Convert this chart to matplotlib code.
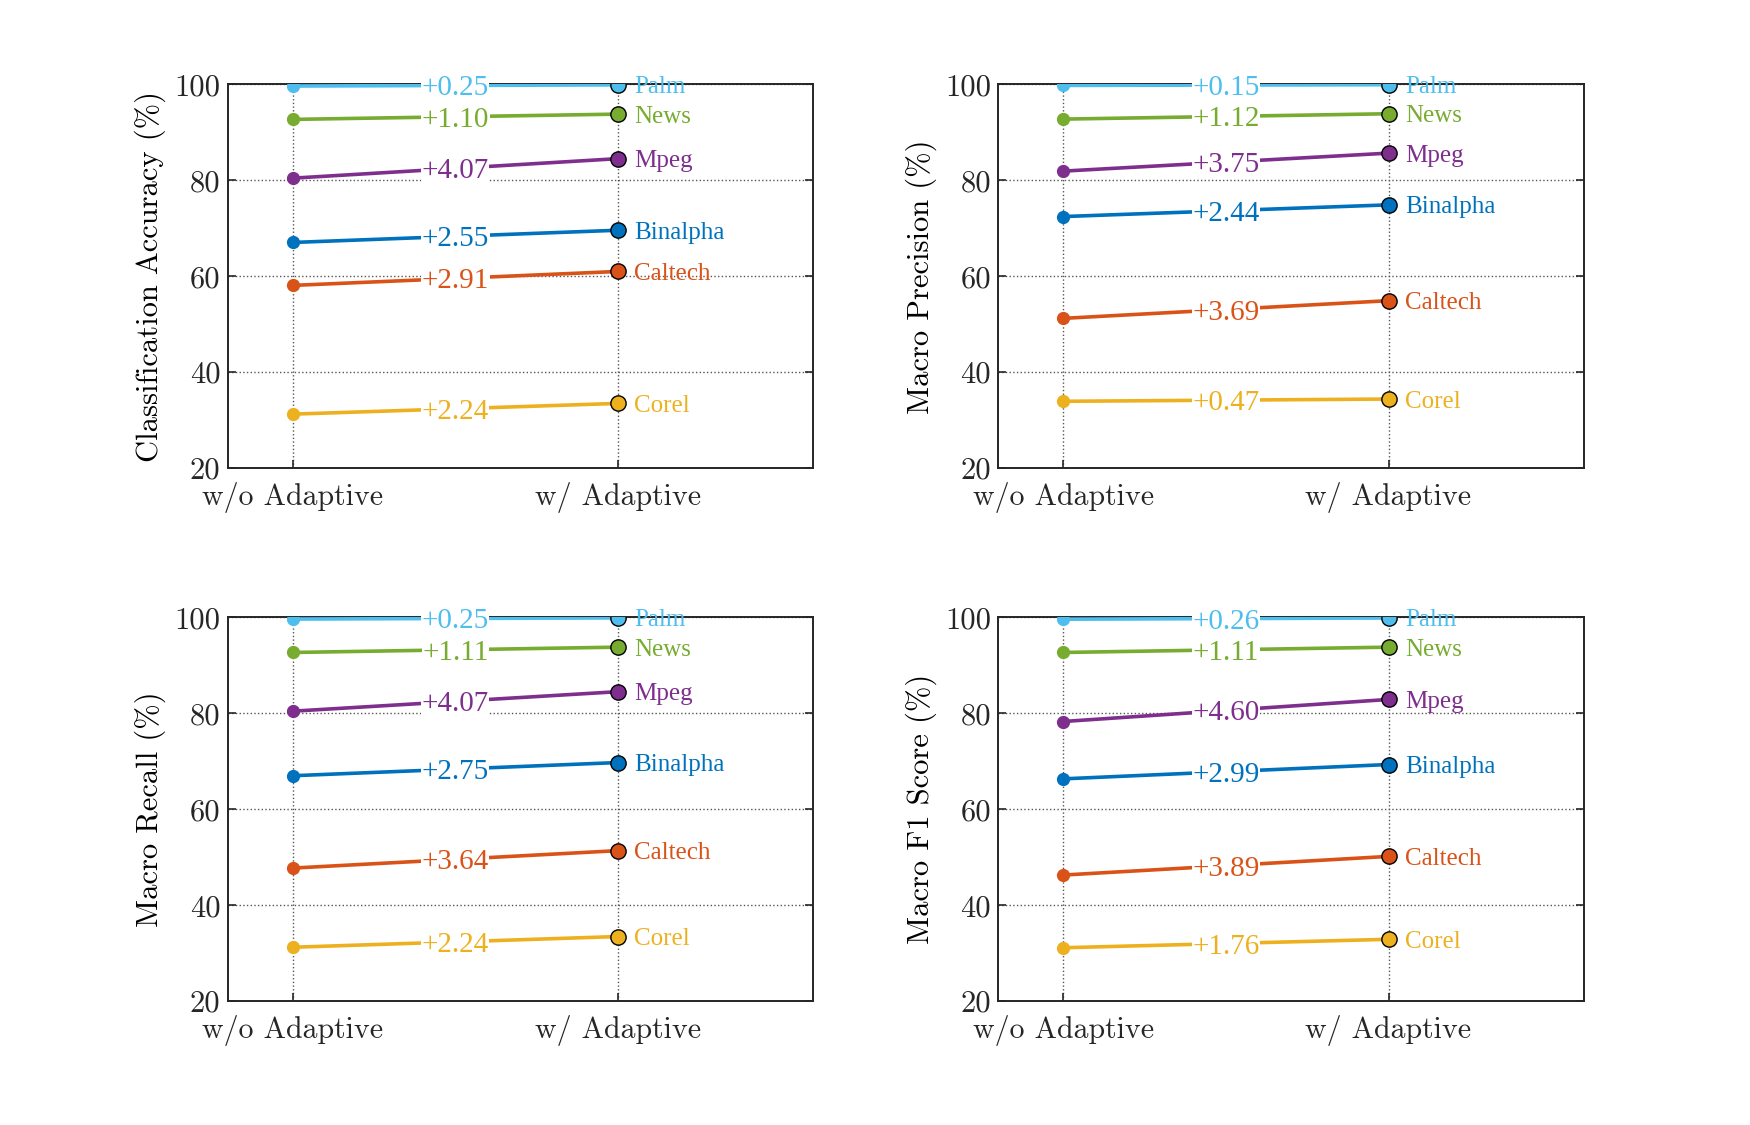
import matplotlib.pyplot as plt
import numpy as np

plt.rcParams['axes.formatter.use_mathtext'] = True

conditions = ['w/o Adaptive', 'w/ Adaptive']
datasets = ['Palm', 'News', 'Mpeg', 'Binalpha', 'Caltech', 'Corel']
colors = ['#4DBEEE', '#77AC30', '#7E2F8E', '#0072BD', '#D95319', '#EDB120']

metrics = ['Classification Accuracy (%)', 'Macro Precision (%)',
           'Macro Recall (%)', 'Macro F1 Score (%)']

# values without / with the adaptive module, per metric, in dataset order
acc_without = [99.65, 92.70, 80.45, 67.05, 58.10, 31.27]
acc_with = [99.90, 93.80, 84.52, 69.60, 61.01, 33.51]
acc_gain = [0.25, 1.10, 4.07, 2.55, 2.91, 2.24]

prec_without = [99.78, 92.76, 81.92, 72.45, 51.23, 33.95]
prec_with = [99.93, 93.88, 85.67, 74.89, 54.92, 34.42]
prec_gain = [0.15, 1.12, 3.75, 2.44, 3.69, 0.47]

rec_without = [99.65, 92.69, 80.45, 67.00, 47.75, 31.25]
rec_with = [99.90, 93.80, 84.52, 69.75, 51.39, 33.49]
rec_gain = [0.25, 1.11, 4.07, 2.75, 3.64, 2.24]

f1_without = [99.62, 92.69, 78.30, 66.35, 46.30, 31.15]
f1_with = [99.88, 93.80, 82.90, 69.34, 50.19, 32.91]
f1_gain = [0.26, 1.11, 4.60, 2.99, 3.89, 1.76]

panels = [(acc_without, acc_with, acc_gain),
          (prec_without, prec_with, prec_gain),
          (rec_without, rec_with, rec_gain),
          (f1_without, f1_with, f1_gain)]

# matlab-like 2x2 subplot layout
positions = [[0.13, 0.5838, 0.3347, 0.3412], [0.5703, 0.5838, 0.3347, 0.3412],
             [0.13, 0.11, 0.3347, 0.3412], [0.5703, 0.11, 0.3347, 0.3412]]

fig = plt.figure(figsize=(17.5, 11.25), dpi=100)
xs = np.array([1, 2])

for pos, label, (wo, w, gain) in zip(positions, metrics, panels):
    ax = fig.add_axes(pos)
    for i, name in enumerate(datasets):
        c = colors[i]
        ax.plot(xs, [wo[i], w[i]], '-', color=c, lw=2.6, zorder=3)
        ax.plot(xs[0], wo[i], 'o', color=c, ms=8.5, mec=c, zorder=4)
        ax.plot(xs[1], w[i], 'o', color=c, ms=11, mec='black', mew=1.0, zorder=4)
        ax.text(1.5, (wo[i] + w[i]) / 2, '+%.2f' % gain[i], color=c,
                fontsize=21, family='Liberation Serif', ha='center',
                va='center_baseline',
                bbox=dict(facecolor='white', edgecolor='none', pad=0.5), zorder=5)
        ax.text(2.05, w[i], name, color=c, fontsize=18, family='Liberation Serif',
                ha='left', va='center_baseline', zorder=5)

    ax.set_xlim(0.8, 2.6)
    ax.set_ylim(20, 100)
    ax.set_xticks(xs)
    ax.set_xticklabels(conditions, fontsize=21.5, family='cmr10')
    ax.set_yticks([20, 40, 60, 80, 100])
    ax.set_yticklabels(['20', '40', '60', '80', '100'], fontsize=22, family='cmr10')
    ax.set_ylabel(label, fontsize=22, family='cmr10', labelpad=6)
    ax.grid(True, linestyle=':', color='#555555', lw=1.0, zorder=0)
    ax.tick_params(direction='in', length=6, width=1.2, top=True, right=True,
                   colors='#262626', pad=5)
    ax.tick_params(axis='x', pad=10)
    for s in ax.spines.values():
        s.set_linewidth(1.4)
        s.set_color('#262626')

fig.savefig('out.png', dpi=100, facecolor='white')
